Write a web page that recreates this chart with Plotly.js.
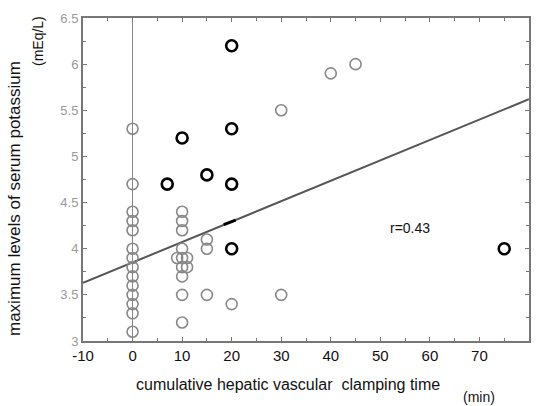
<!DOCTYPE html>
<html>
<head>
<meta charset="utf-8">
<script src="https://cdn.plot.ly/plotly-3.0.1.min.js"></script>
<style>html,body{margin:0;padding:0;background:#fff;}#chart{width:537px;height:406px;}</style>
</head>
<body>
<div id="chart"></div>
<script>
// gray (open) data points
var grayX = [0,0,0,0,0,0,0,0,0,0,0,0,0,0,
             10,10,10,10,9,10,11,10,11,10,10,10,
             15,15,15, 20, 30,30, 40,45];
var grayY = [5.3,4.7,4.4,4.3,4.2,4.0,3.9,3.8,3.7,3.6,3.5,3.4,3.3,3.1,
             4.4,4.3,4.2,4.0,3.9,3.9,3.9,3.8,3.8,3.7,3.5,3.2,
             4.1,4.0,3.5, 3.4, 5.5,3.5, 5.9,6.0];
// black (bold) data points
var blackX = [7,10,15,20,20,20,20,75];
var blackY = [4.7,5.2,4.8,6.2,5.3,4.7,4.0,4.0];
// regression line
var lineX = [-10, 80];
var lineY = [3.63, 5.62];
// small dark segment on the line
var dashX = [18.4, 20.8];
var dashY = [4.26, 4.31];
var xTicks = [-10,0,10,20,30,40,50,60,70,80];
var yTicks = [3,3.5,4,4.5,5,5.5,6,6.5];
var yTickText = ['3','3.5','4','4.5','5','5.5','6','6.5'];
var xTitle = 'cumulative hepatic vascular  clamping time';
var yTitle = 'maximum levels of serum potassium';

var traces = [
  {x: lineX, y: lineY, mode: 'lines', line: {color: '#555', width: 2}, hoverinfo: 'skip'},
  {x: dashX, y: dashY, mode: 'lines', line: {color: '#000', width: 3}, hoverinfo: 'skip'},
  {x: grayX, y: grayY, mode: 'markers', marker: {symbol: 'circle-open', size: 11, color: '#888', line: {width: 1.6, color: '#888'}}},
  {x: blackX, y: blackY, mode: 'markers', marker: {symbol: 'circle-open', size: 11, color: '#000', line: {width: 2.6, color: '#000'}}}
];

var axisCommon = {
  showgrid: false, showline: true, linecolor: '#777', linewidth: 2, mirror: 'ticks',
  ticks: 'inside', ticklen: 4, tickcolor: '#777', tickwidth: 1
};

var layout = {
  width: 537, height: 406,
  margin: {l: 83, r: 8, t: 18, b: 65},
  paper_bgcolor: '#fff', plot_bgcolor: '#fff',
  showlegend: false,
  font: {family: 'Liberation Sans, Arial, sans-serif', size: 12, color: '#000'},
  xaxis: Object.assign({}, axisCommon, {
    range: [-10, 80], tickvals: xTicks, ticktext: xTicks.map(String),
    tickfont: {size: 15, color: '#111'},
    minor: {dtick: 5, ticks: 'inside', ticklen: 3, tickcolor: '#777'},
    zeroline: true, zerolinecolor: '#888', zerolinewidth: 1.6,
    title: {text: ''}
  }),
  yaxis: Object.assign({}, axisCommon, {
    range: [3, 6.5], tickvals: yTicks, ticktext: yTickText,
    tickfont: {size: 13, color: '#999'},
    minor: {dtick: 0.25, ticks: 'inside', ticklen: 3, tickcolor: '#777'},
    zeroline: false,
    title: {text: ''}
  }),
  annotations: [
    {text: xTitle, x: 288, y: 384, showarrow: false, font: {size: 16, color: '#111'}},
    {text: yTitle, x: 14, y: 199, textangle: -90, showarrow: false, font: {size: 17, color: '#111'}},
    {text: 'r=0.43', x: 410, y: 228, showarrow: false, font: {size: 14, color: '#111'}},
    {text: '(min)', x: 479, y: 397, showarrow: false, font: {size: 14, color: '#111'}},
    {text: '(mEq/L)', x: 38, y: 41, textangle: -90, showarrow: false, font: {size: 14, color: '#111'}}
  ]
};
// convert pixel-placed annotations to paper coords (centred on the given pixel)
var pw = 537 - 83 - 8, ph = 406 - 18 - 65;
layout.annotations.forEach(function(a){
  a.xref = 'paper'; a.yref = 'paper';
  a.xanchor = 'center'; a.yanchor = 'middle';
  a.x = (a.x - 83) / pw; a.y = 1 - (a.y - 18) / ph;
});

Plotly.newPlot('chart', traces, layout, {displayModeBar: false, staticPlot: true});
</script>
</body>
</html>
